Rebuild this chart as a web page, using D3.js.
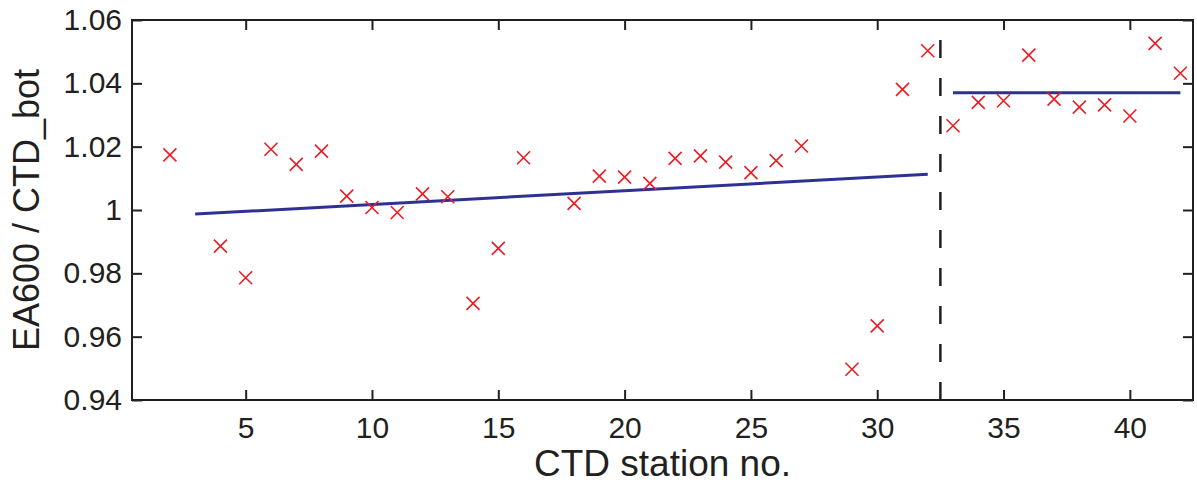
<!DOCTYPE html>
<html>
<head>
<meta charset="utf-8">
<script src="https://cdn.jsdelivr.net/npm/d3@7"></script>
<style>
  body { margin: 0; background: #fff; }
  svg text { font-family: "Liberation Sans", Arial, Helvetica, sans-serif; fill: #231f20; }
  .axis path.domain { display: none; }
  .axis line { stroke: #231f20; stroke-width: 2; }
  .axis text { font-size: 30px; }
</style>
</head>
<body>
<svg width="1197" height="489"></svg>
<script>
// ratio EA600 / CTD bottom depth, per CTD station (stations 1, 3, 17, 28 missing)
const stations = [2, 4, 5, 6, 7, 8, 9, 10, 11, 12, 13, 14, 15, 16, 18, 19, 20, 21, 22, 23, 24, 25, 26, 27,
                  29, 30, 31, 32, 33, 34, 35, 36, 37, 38, 39, 40, 41, 42];
const ratios = [1.0174, 0.9886, 0.9786, 1.0192, 1.0144, 1.0186, 1.0044, 1.0008, 0.9992, 1.0051, 1.0042, 0.9705,
                0.9879, 1.0165, 1.0021, 1.0107, 1.0104, 1.0084, 1.0163, 1.0171, 1.0151, 1.0118, 1.0156, 1.0202,
                0.9497, 0.9634, 1.0381, 1.0503, 1.0266, 1.0340, 1.0345, 1.0489, 1.0350, 1.0325, 1.0332, 1.0297,
                1.0526, 1.0432];

// fitted lines before / after the break
const fit1X = [3, 32];
const fit1Y = [0.9987, 1.0113];
const fit2X = [33, 42];
const fit2Y = [1.037, 1.037];
const breakStation = 32.5;

const xTicks = [5, 10, 15, 20, 25, 30, 35, 40];
const yTicks = [0.94, 0.96, 0.98, 1, 1.02, 1.04, 1.06];

const svg = d3.select('svg');
const margin = { top: 20, right: 4, bottom: 89, left: 132 };
const width = +svg.attr('width') - margin.left - margin.right;
const height = +svg.attr('height') - margin.top - margin.bottom;

const g = svg.append('g').attr('transform', `translate(${margin.left},${margin.top})`);

const x = d3.scaleLinear().domain([0.5, 42.5]).range([0, width]);
const y = d3.scaleLinear().domain([0.94, 1.06]).range([height, 0]);

// axes with inward ticks (box style)
g.append('g').attr('class', 'axis')
    .attr('transform', `translate(0,${height})`)
    .call(d3.axisBottom(x).tickValues(xTicks).tickSizeInner(-10).tickSizeOuter(0).tickPadding(17));
g.append('g').attr('class', 'axis')
    .call(d3.axisTop(x).tickValues(xTicks).tickSizeInner(-10).tickSizeOuter(0).tickFormat(''));
g.append('g').attr('class', 'axis')
    .call(d3.axisLeft(y).tickValues(yTicks).tickSizeInner(-10).tickSizeOuter(0).tickPadding(10)
        .tickFormat(d => d3.format('')(+d.toFixed(2))));
g.append('g').attr('class', 'axis')
    .attr('transform', `translate(${width},0)`)
    .call(d3.axisRight(y).tickValues(yTicks).tickSizeInner(-10).tickSizeOuter(0).tickFormat(''));

g.append('rect')
    .attr('width', width).attr('height', height)
    .attr('fill', 'none').attr('stroke', '#231f20').attr('stroke-width', 2);

// vertical dashed break line, drawn from the bottom up
g.append('line')
    .attr('x1', x(breakStation)).attr('x2', x(breakStation))
    .attr('y1', y(0.94)).attr('y2', y(1.06))
    .attr('stroke', '#231f20').attr('stroke-width', 2.5)
    .attr('stroke-dasharray', '18,20');

// fit lines
const line = d3.line().x(d => x(d[0])).y(d => y(d[1]));
[[fit1X, fit1Y], [fit2X, fit2Y]].forEach(([fx, fy]) => {
    g.append('path')
        .datum(fx.map((v, i) => [v, fy[i]]))
        .attr('d', line)
        .attr('fill', 'none')
        .attr('stroke', '#2e3192')
        .attr('stroke-width', 3);
});

// x markers
const s = 6.5;
g.selectAll('.pt').data(stations)
    .enter().append('path').attr('class', 'pt')
    .attr('transform', (d, i) => `translate(${x(d)},${y(ratios[i])})`)
    .attr('d', `M${-s},${-s}L${s},${s}M${-s},${s}L${s},${-s}`)
    .attr('stroke', '#ed1c24')
    .attr('stroke-width', 1.6)
    .attr('fill', 'none');

// axis labels
svg.append('text')
    .attr('x', margin.left + width / 2)
    .attr('y', 476)
    .attr('text-anchor', 'middle')
    .style('font-size', '37px')
    .text('CTD station no.');

svg.append('text')
    .attr('transform', `translate(39,${margin.top + height / 2}) rotate(-90)`)
    .attr('text-anchor', 'middle')
    .style('font-size', '36px')
    .text('EA600 / CTD_bot');
</script>
</body>
</html>
